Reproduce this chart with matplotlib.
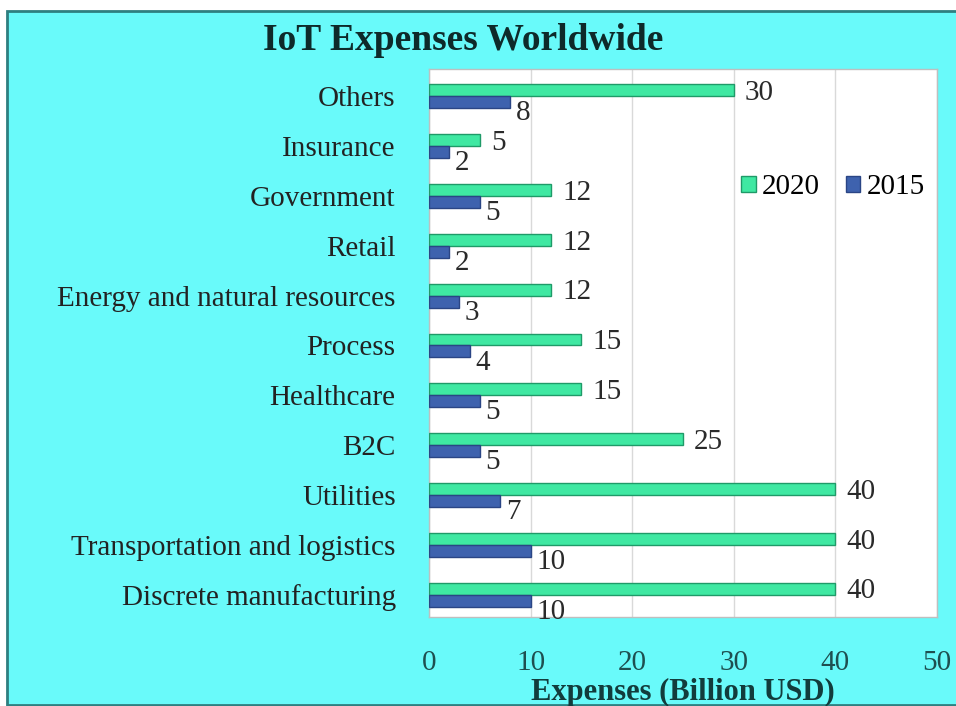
import matplotlib
matplotlib.use("Agg")
import matplotlib.pyplot as plt
from matplotlib.patches import Rectangle, Patch
import numpy as np

categories = ["Discrete manufacturing", "Transportation and logistics", "Utilities", "B2C",
              "Healthcare", "Process", "Energy and natural resources", "Retail",
              "Government", "Insurance", "Others"]
v2020 = [40, 40, 40, 25, 15, 15, 12, 12, 12, 5, 30]
v2015 = [10, 10, 7, 5, 5, 4, 3, 2, 5, 2, 8]
xticks = [0, 10, 20, 30, 40, 50]

plt.rcParams['font.family'] = ['Liberation Serif', 'DejaVu Serif']

W, H = 956, 706
fig = plt.figure(figsize=(W/100, H/100), dpi=100, facecolor='white')
bg = Rectangle((7/W, 1/H), 1.2, 1 - 12/H, transform=fig.transFigure,
               facecolor='#69FAFA', edgecolor='#2E7F80', linewidth=2.0, zorder=-10)
fig.patches.append(bg)

ax = fig.add_axes([429/W, 1 - 617/H, (937-429)/W, (617-69)/H])
ax.set_facecolor('white')
y = np.arange(len(categories))
h = 0.24
green = '#3FE8A2'
blue = '#3E62AE'
ax.barh(y + h/2, v2020, height=h, color=green, edgecolor='#1F9A68', linewidth=1.0, zorder=3, label='2020')
ax.barh(y - h/2, v2015, height=h, color=blue, edgecolor='#2A4585', linewidth=1.0, zorder=3, label='2015')

for yi, a, b in zip(y, v2020, v2015):
    ax.annotate(str(a), (a, yi + h/2), xytext=(8, -2), textcoords='offset points',
                va='center', ha='left', fontsize=21, color='#2A2A2A')
    ax.annotate(str(b), (b, yi - h/2), xytext=(4, -8), textcoords='offset points',
                va='center', ha='left', fontsize=21, color='#2A2A2A')

ax.set_xlim(0, 50)
ax.set_ylim(-0.45, 10.55)
ax.set_xticks(xticks)
ax.set_xticklabels([str(t) for t in xticks], fontsize=21, color='#1E4F50')
ax.tick_params(axis='x', length=0, pad=24)
ax.set_yticks(y)
ax.set_yticklabels(categories, fontsize=21, color='#222222')
ax.tick_params(axis='y', length=0, pad=24)
ax.grid(axis='x', color='#D9D9D9', linewidth=1.0, zorder=0)
for s in ax.spines.values():
    s.set_color('#BFBFBF')
    s.set_linewidth(1.0)
ax.set_xlabel('Expenses (Billion USD)', fontsize=22, fontweight='bold', color='#123C3C', labelpad=1.5)

handles = [Patch(facecolor=green, edgecolor='#1F9A68'), Patch(facecolor=blue, edgecolor='#2A4585')]
ax.legend(handles, ['2020', '2015'], loc='upper right', bbox_to_anchor=(1.01, 0.84), ncol=2,
          frameon=False, fontsize=21, handlelength=0.5, handleheight=0.5, handletextpad=0.2,
          columnspacing=0.9, borderaxespad=0.2)

fig.text(463/W, 1 - 40/H, 'IoT Expenses Worldwide', ha='center', va='center',
         fontsize=27, fontweight='bold', color='#0E2A2A')

fig.savefig('out.png', dpi=100, facecolor=fig.get_facecolor())
